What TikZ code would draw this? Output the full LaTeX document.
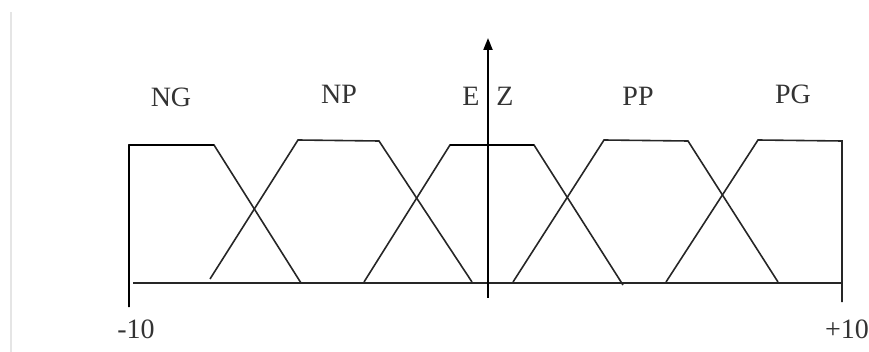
\documentclass[tikz,border=0pt]{standalone}
\usepackage{fontspec}
\setmainfont{Liberation Serif}
\usetikzlibrary{arrows.meta}
\begin{document}
\begin{tikzpicture}[x=1pt,y=-1pt,
  mf/.style={line width=1.6pt,draw=black!85,line join=miter},
  thick mf/.style={line width=2.6pt,draw=black},
  lbl/.style={font=\fontsize{28}{28}\selectfont,text=black!80,inner sep=0pt}]
\useasboundingbox (0,0) rectangle (869,352);
\draw[line width=1.2pt,black!10] (11,12) -- (11,352);
% baseline
\draw[mf] (133,283) -- (842,283);
% axis
\draw[line width=2pt,-{Triangle[length=12pt,width=9pt]}] (488,298) -- (488,38);
% NG
\draw[mf] (129,307) -- (129,145) -- (214,145) -- (301,283);
\draw[thick mf] (129,145) -- (214,145);
\draw[line width=2.2pt] (129,307) -- (129,145);
% NP
\draw[mf] (210,279) -- (298,140) -- (379,141) -- (472,282);
% EZ
\draw[mf] (364,282) -- (450,145) -- (534,145) -- (623,285);
\draw[thick mf] (450,145) -- (534,145);
% PP
\draw[mf] (513,282) -- (604,140) -- (688,141) -- (778,282);
% PG
\draw[mf] (666,282) -- (758,140) -- (842,141) -- (842,302);
% labels
\node[lbl] (ng) at (171,97) {NG};
\node[lbl] (np) at (339,94) {NP};
\node[lbl] (e) at (471,96) {E};
\node[lbl] (z) at (505,96) {Z};
\node[lbl] (pp) at (638,96) {PP};
\node[lbl] (pg) at (793,94) {PG};
\node[lbl] (m10) at (136,329) {-10};
\node[lbl] (p10) at (847,329) {+10};
\end{tikzpicture}
\end{document}
